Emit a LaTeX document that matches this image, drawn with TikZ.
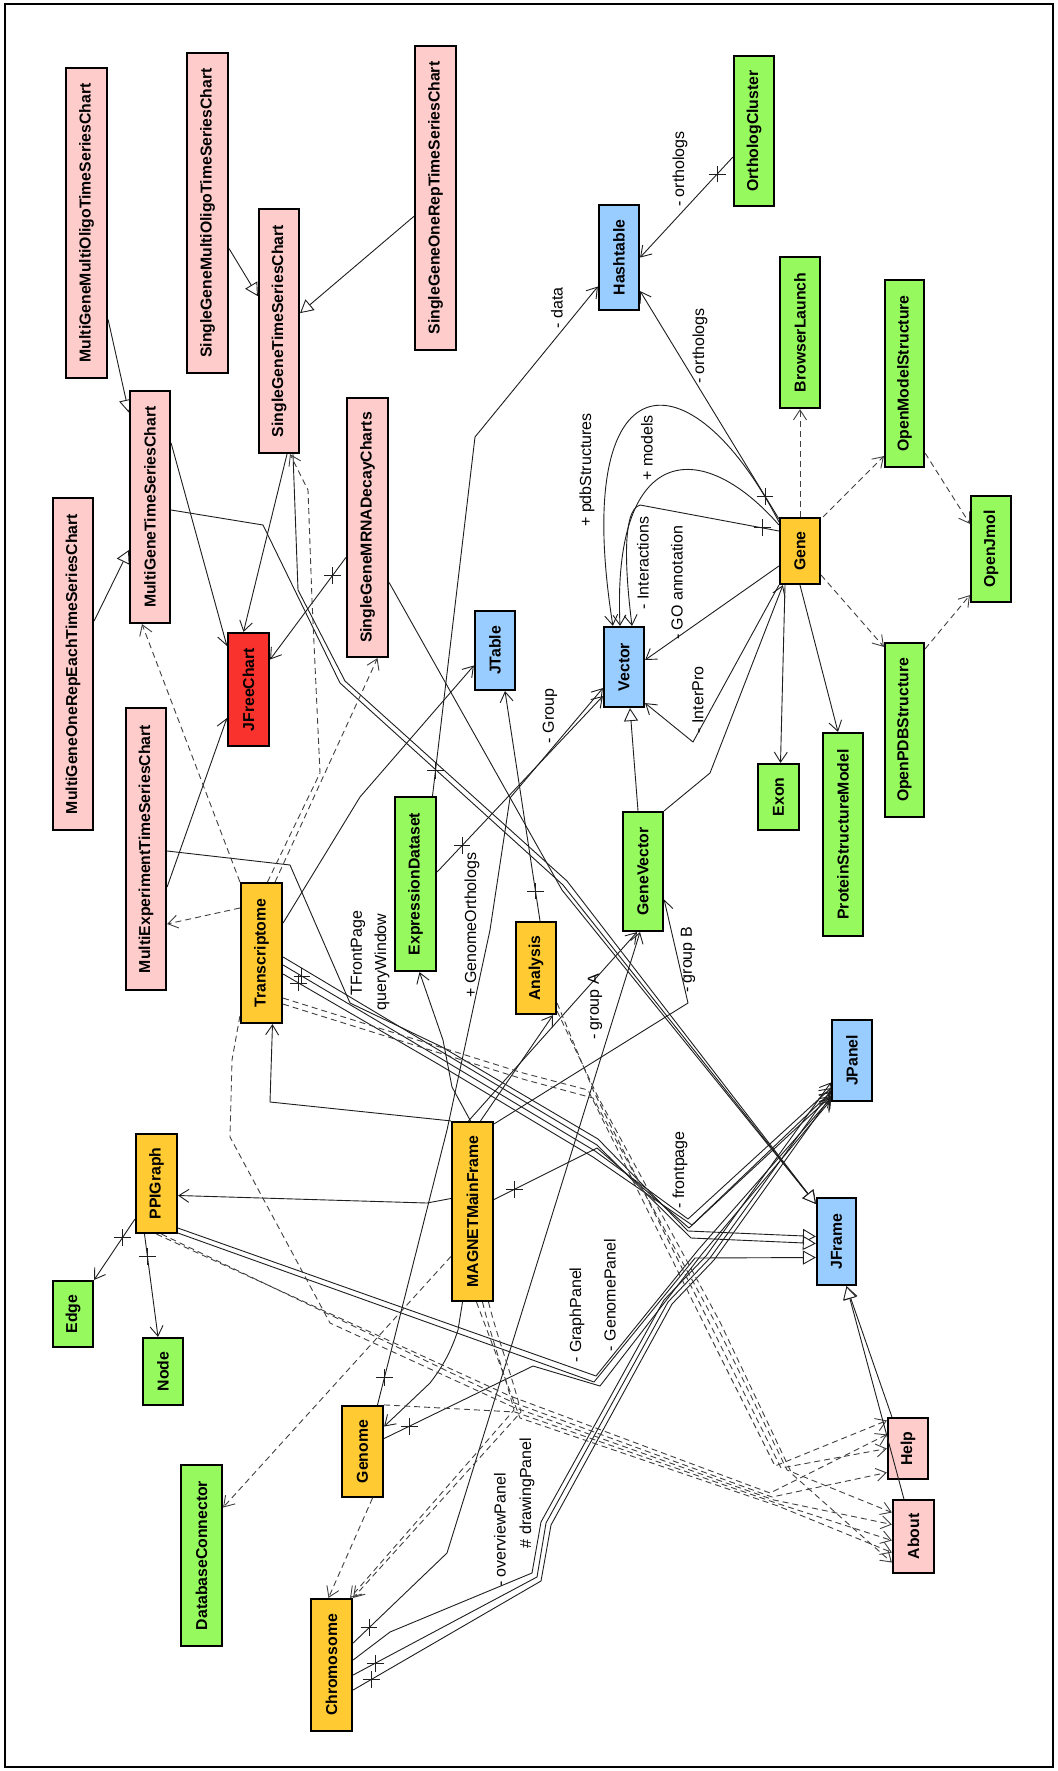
\documentclass[tikz,border=0pt]{standalone}
\usepackage{fontspec}
\setmainfont{Liberation Sans}
\usetikzlibrary{arrows.meta,calc,shapes.misc,backgrounds}
\definecolor{cpink}{RGB}{255,204,204}
\definecolor{cgreen}{RGB}{150,250,95}
\definecolor{corange}{RGB}{255,202,50}
\definecolor{cblue}{RGB}{153,204,255}
\definecolor{cred}{RGB}{250,50,45}
\definecolor{cline}{RGB}{30,30,30}
\tikzset{
  box/.style={draw=black, line width=2.2pt, inner sep=0pt, text=black,
    font=\fontsize{15.8}{18}\selectfont\bfseries},
  pinkbox/.style={box, fill=cpink},
  greenbox/.style={box, fill=cgreen},
  orangebox/.style={box, fill=corange},
  bluebox/.style={box, fill=cblue},
  redbox/.style={box, fill=cred},
  lbl/.style={font=\fontsize{16}{18}\selectfont, inner sep=0pt, rotate=90, text=black},
  assoc/.style={draw=cline, line width=0.9pt, line join=round,
    -{Straight Barb[length=10pt,width=13pt]}},
  gen/.style={draw=cline, line width=0.9pt, line join=round,
    -{Triangle[open,length=13pt,width=14pt,fill=white]}},
  dep/.style={assoc, draw=cline!85, dash pattern=on 6pt off 4pt},
  xm/.style={draw=cline, cross out, rotate=45, minimum size=11pt, inner sep=0pt, line width=0.9pt},
}
\newcommand{\umlclass}[6]{\node[#1, minimum width=#2pt, minimum height=#3pt] (#4) at (#5) {\rotatebox{90}{#6}};}
\begin{document}
\begin{tikzpicture}[x=1pt,y=-1pt]
\useasboundingbox (0,0) rectangle (1057,1771);

% ---------- classes ----------
\umlclass{pinkbox}{41}{310}{mgmo}{86.5,223}{MultiGeneMultiOligoTimeSeriesChart}
\umlclass{pinkbox}{41}{320}{sgmo}{207.5,213}{SingleGeneMultiOligoTimeSeriesChart}
\umlclass{pinkbox}{40}{244}{sgts}{279,331}{SingleGeneTimeSeriesChart}
\umlclass{pinkbox}{41}{304}{sgor}{435.5,198}{SingleGeneOneRepTimeSeriesChart}
\umlclass{pinkbox}{40}{232}{mgts}{150,507}{MultiGeneTimeSeriesChart}
\umlclass{pinkbox}{41}{259}{sgmd}{367.5,527.5}{SingleGeneMRNADecayCharts}
\umlclass{pinkbox}{40}{332}{mgor}{73,664}{MultiGeneOneRepEachTimeSeriesChart}
\umlclass{pinkbox}{40}{282}{met}{146,849}{MultiExperimentTimeSeriesChart}
\umlclass{redbox}{41}{113}{jfc}{248.5,689.5}{JFreeChart}
\umlclass{bluebox}{40}{79}{jtable}{495,650.5}{JTable}
\umlclass{greenbox}{41}{174}{expds}{415.5,884}{ExpressionDataset}
\umlclass{orangebox}{41}{140}{transcriptome}{261.5,953}{Transcriptome}
\umlclass{bluebox}{40}{105}{hashtable}{619,257.5}{Hashtable}
\umlclass{greenbox}{40}{150}{ortholog}{754,131}{OrthologCluster}
\umlclass{greenbox}{40}{151}{browser}{800,332.5}{BrowserLaunch}
\umlclass{greenbox}{39}{187}{oms}{904.5,373.5}{OpenModelStructure}
\umlclass{bluebox}{40}{80}{vector}{624,667}{Vector}
\umlclass{orangebox}{40}{66}{gene}{800,551}{Gene}
\umlclass{greenbox}{40}{106}{jmol}{991,549}{OpenJmol}
\umlclass{greenbox}{39}{174}{opdb}{904.5,730}{OpenPDBStructure}
\umlclass{greenbox}{41}{66}{exon}{778.5,797}{Exon}
\umlclass{greenbox}{40}{203}{psm}{843,834.5}{ProteinStructureModel}
\umlclass{greenbox}{40}{119}{genevector}{643,871.5}{GeneVector}
\umlclass{orangebox}{40}{92}{analysis}{536,968}{Analysis}
\umlclass{bluebox}{40}{81}{jpanel}{852,1060.5}{JPanel}
\umlclass{bluebox}{39}{87}{jframe}{836.5,1241.5}{JFrame}
\umlclass{orangebox}{41}{99}{ppigraph}{156.5,1183.5}{PPIGraph}
\umlclass{orangebox}{41}{179}{magnet}{472.5,1211.5}{MAGNETMainFrame}
\umlclass{greenbox}{40}{66}{edgecls}{73,1314}{Edge}
\umlclass{greenbox}{40}{67}{nodecls}{163,1371.5}{Node}
\umlclass{greenbox}{41}{181}{dbc}{201.5,1555.5}{DatabaseConnector}
\umlclass{orangebox}{41}{91}{genome}{362.5,1451.5}{Genome}
\umlclass{orangebox}{41}{132}{chromosome}{331.5,1665}{Chromosome}
\umlclass{pinkbox}{40}{61}{help}{908,1448.5}{Help}
\umlclass{pinkbox}{41}{73}{about}{913.5,1536.5}{About}

% ---------- role names ----------
\node[lbl] (r1) at (680,169) {- orthologs};
\node[lbl] (r2) at (700,346) {- orthologs};
\node[lbl] (r3) at (557,308) {- data};
\node[lbl] (r4) at (587,470) {+ pdbStructures};
\node[lbl] (r5) at (647,448) {+ models};
\node[lbl] (r6) at (643,563) {- Interactions};
\node[lbl] (r7) at (677,583) {- GO annotation};
\node[lbl] (r8) at (698,700) {- InterPro};
\node[lbl] (r9) at (550,716) {- Group};
\node[lbl] (r10) at (472,925) {+ GenomeOrthologs};
\node[lbl] (r11) at (358,953) {TFrontPage};
\node[lbl] (r12) at (382,962) {queryWindow};
\node[lbl] (r13) at (595,1007) {- group A};
\node[lbl] (r14) at (688,960) {- group B};
\node[lbl] (r15) at (680,1170) {- frontpage};
\node[lbl] (r16) at (577,1315) {- GraphPanel};
\node[lbl] (r17) at (610,1295) {- GenomePanel};
\node[lbl] (r18) at (500,1530) {- overviewPanel};
\node[lbl] (r19) at (527,1493) {\# drawingPanel};

\begin{scope}[on background layer]
\fill[white] (0,0) rectangle (1057,1771);

% ---------- generalizations ----------
\draw[gen] (mgmo) -- (mgts);
\draw[gen] (sgmo) -- (sgts);
\draw[gen] (sgor) -- (sgts);
\draw[gen] (mgor) -- (mgts);
\draw[gen] ($(genevector.north)+(-5,0)$) -- ($(vector.south)+(6,0)$);
\draw[gen] ($(mgts.east)+(0,3)$) -- (263,525) -- (340,683) -- (563,885) -- ($(jframe.north west)+(0,7)$);
\draw[gen] ($(sgts.south)+(14,0)$) -- (298,590) -- (345,681) -- (567,881) -- ($(jframe.north west)+(0,7)$);
\draw[gen] ($(sgmd.east)+(0,55)$) -- (562,890) -- ($(jframe.north west)+(0,7)$);
\draw[gen] ($(met.east)+(0,2)$) -- (290,865) -- (350,1003) -- (442,1047) -- (598,1139) -- (688,1231) -- ($(jframe.west)+(0,-5)$);
\draw[gen] ($(transcriptome.east)+(0,4)$) -- (442,1052) -- (597,1145) -- (691,1238) -- ($(jframe.west)+(0,2)$);
\draw[gen] ($(ppigraph.south east)+(0,-1)$) -- (594,1382) -- (695,1258) -- ($(jframe.west)+(0,16)$);
\draw[gen] ($(help.north west)+(5,0)$) -- ($(jframe.south)+(10,0)$);

% ---------- associations ----------
\draw[assoc] ($(ortholog.west)+(0,26)$) -- node[xm,pos=.17] (k1) {} (hashtable.east);
\draw[assoc] ($(gene.north west)+(0,2)$) -- node[xm,pos=.1] (k2) {} ($(hashtable.south east)+(0,-20)$);
\draw[assoc] ($(expds.north)+(17,0)$) -- node[xm,pos=.07] (k3) {} (475,437) -- ($(hashtable.west)+(0,29)$);
\draw[assoc] ($(gene.north west)+(0,5)$) .. controls (690,350) and (570,355) .. ($(vector.north west)+(10,0)$);
\draw[assoc] ($(gene.north west)+(0,8)$) .. controls (700,435) and (612,445) .. ($(vector.north)+(-4,0)$);
\draw[assoc] ($(gene.west)+(0,-20)$) -- node[xm,pos=.12] (k4) {} (640,505) .. controls (622,510) and (625,570) .. ($(vector.north)+(8,0)$);
\draw[assoc] ($(gene.west)+(0,15)$) -- ($(vector.east)+(0,-7)$);
\draw[assoc] (gene.south west) -- (693,742) -- ($(vector.south east)+(0,-5)$);
\draw[assoc] (genevector.north east) -- (710,773) -- ($(gene.south west)+(4,0)$);
\draw[assoc] ($(gene.south)+(-15,0)$) -- ($(exon.north)+(2,0)$);
\draw[assoc] (gene.south) -- ($(psm.north)+(-5,0)$);
\draw[assoc] ($(expds.east)+(0,-12)$) -- node[xm,pos=.15] (k5) {} ($(vector.south west)+(0,-12)$);
\draw[assoc] ($(genome.north)+(15,0)$) -- node[xm,pos=.1] (k6) {} (447,1130) -- (490,930) -- (510,798) -- ($(vector.south west)+(0,-20)$);
\draw[assoc] ($(analysis.north)+(4,0)$) -- node[xm,pos=.13] (k7) {} ($(jtable.south)+(10,0)$);
\draw[assoc] ($(transcriptome.east)+(0,-30)$) -- (360,797) -- ($(jtable.west)+(0,15)$);
\draw[assoc] ($(mgts.east)+(0,-64)$) -- ($(jfc.north west)+(0,14)$);
\draw[assoc] ($(sgts.south)+(8,0)$) -- ($(jfc.north)+(-5,0)$);
\draw[assoc] ($(sgmd.west)+(0,30)$) -- node[xm,pos=.18] (k8) {} ($(jfc.east)+(0,-30)$);
\draw[assoc] ($(met.east)+(0,38)$) -- ($(jfc.south west)+(0,-29)$);
\draw[assoc] ($(ppigraph.south west)+(0,-15)$) -- node[xm,pos=.3] (k9) {} (edgecls.north east);
\draw[assoc] ($(ppigraph.south)+(-12,0)$) -- node[xm,pos=.22] (k10) {} ($(nodecls.north)+(-5,0)$);
\draw[assoc] ($(magnet.west)+(0,-13)$) -- (427,1203) -- ($(ppigraph.east)+(0,12)$);
\draw[assoc] (magnet.north west) -- (270,1102) -- ($(transcriptome.south)+(11,0)$);
\draw[assoc] ($(magnet.north)+(-2,0)$) -- (452,1087) -- (443,1040) -- ($(expds.south)+(4,0)$);
\draw[assoc] ($(magnet.north)+(8,0)$) -- ($(analysis.south)+(17,0)$);
\draw[assoc] ($(magnet.north)+(-4,0)$) -- ($(genevector.south)+(-6,0)$);
\draw[assoc] ($(magnet.north east)+(0,3)$) -- (688,1003) -- ($(genevector.east)+(0,28)$);
\draw[assoc] ($(magnet.south)+(-10,0)$) -- (458,1330) .. controls (450,1355) and (440,1370) .. (430,1383) -- ($(genome.east)+(0,-25)$);

% panels gathered into JPanel
\draw[assoc] ($(transcriptome.east)+(0,12)$) -- node[xm,pos=.12] (k11) {} (440,1058) -- (595,1151) -- (688,1219) -- ($(jpanel.south west)+(0,-14)$);
\draw[assoc] ($(transcriptome.east)+(0,21)$) -- node[xm,pos=.1] (k12) {} (438,1064) -- (593,1157) -- (692,1225) -- ($(jpanel.south west)+(0,-10)$);
\draw[assoc] ($(magnet.east)+(0,-12)$) -- node[xm,pos=.2] (k13) {} (597,1148) -- (689,1228) -- ($(jpanel.south west)+(0,-6)$);
\draw[assoc] ($(ppigraph.south east)+(0,-6)$) -- (596,1376) -- (698,1250) -- ($(jpanel.south west)+(0,-4)$);
\draw[assoc] ($(genome.east)+(0,-13)$) -- node[xm,pos=.17] (k14) {} (533,1366) -- (600,1386) -- (702,1254) -- ($(jpanel.south west)+(0,-2)$);
\draw[assoc] ($(chromosome.east)+(0,-5)$) -- (390,1632) -- (532,1573) -- (541,1522) -- (664,1300) -- (706,1256) -- ($(jpanel.west)+(0,22)$);
\draw[assoc] ($(chromosome.east)+(0,10)$) -- node[xm,pos=.12] (k15) {} (537,1577) -- (546,1523) -- (668,1302) -- (710,1258) -- ($(jpanel.west)+(0,30)$);
\draw[assoc] ($(chromosome.east)+(0,25)$) -- node[xm,pos=.1] (k16) {} (541,1581) -- (551,1525) -- (672,1304) -- (714,1260) -- ($(jpanel.west)+(0,36)$);
\draw[assoc] ($(chromosome.east)+(0,-22)$) -- node[xm,pos=.17] (k17) {} (447,1553) -- ($(genevector.south)+(-3,0)$);

% ---------- dependencies ----------
\draw[dep] (gene.north) -- (browser.south);
\draw[dep] ($(gene.north east)+(2,0)$) -- ($(oms.south west)+(0,-12)$);
\draw[dep] ($(gene.south east)+(0,-10)$) -- ($(opdb.north west)+(0,5)$);
\draw[dep] ($(oms.south east)+(0,-15)$) -- ($(jmol.north west)+(0,29)$);
\draw[dep] ($(opdb.north east)+(0,7)$) -- ($(jmol.south west)+(0,-8)$);
\draw[dep] (transcriptome.north west) -- ($(mgts.south)+(-8,0)$);
\draw[dep] ($(transcriptome.north)+(6,0)$) -- (320,773) -- (312,600) -- (308,490) -- ($(sgts.south)+(11,0)$);
\draw[dep] ($(transcriptome.north east)+(-8,0)$) -- ($(sgmd.south)+(10,0)$);
\draw[dep] ($(transcriptome.west)+(0,-45)$) -- ($(met.east)+(0,75)$);
\draw[dep] ($(magnet.west)+(0,45)$) -- ($(dbc.east)+(0,-48)$);
\draw[dep] ($(genome.south)+(10,0)$) -- ($(chromosome.north)+(-3,0)$);
\draw[dep] ($(magnet.south)+(10,0)$) .. controls (492,1340) and (505,1375) .. (514,1410) -- ($(chromosome.north east)+(-3,0)$);
\draw[dep] ($(magnet.south)+(16,0)$) .. controls (498,1340) and (512,1375) .. (521,1412) -- (chromosome.north east);

% dependencies fanning into Help and About
\draw[dep] ($(transcriptome.south east)+(0,-26)$) -- (523,1073) -- (588,1090) -- (703,1322) -- (775,1466) -- ($(help.west)+(0,-28)$);
\draw[dep] ($(analysis.south east)+(0,-12)$) -- (594,1092) -- (709,1322) -- (781,1468) -- (help.west);
\draw[dep] ($(transcriptome.south east)+(0,-20)$) -- (526,1080) -- (593,1098) -- (715,1322) -- (787,1470) -- ($(about.west)+(0,-24)$);
\draw[dep] ($(ppigraph.south)+(0,0)$) -- (510,1396) -- (770,1493) -- ($(help.west)+(0,-14)$);
\draw[dep] ($(ppigraph.south)+(5,0)$) -- (512,1402) -- (772,1497) -- ($(help.west)+(0,24)$);
\draw[dep] ($(transcriptome.south west)+(0,-8)$) -- (232,1060) -- (230,1137) -- (330,1323) -- (513,1407) -- (774,1500) -- ($(about.west)+(0,-12)$);
\draw[dep] (genome.north east) -- (515,1412) -- (776,1503) -- ($(about.west)+(0,4)$);
\draw[dep] ($(magnet.south)+(4,0)$) -- (520,1418) -- (778,1506) -- ($(about.west)+(0,16)$);
\draw[dep] ($(analysis.south east)+(0,-4)$) -- (598,1097) -- (720,1322) -- (792,1474) -- ($(about.west)+(0,26)$);
\end{scope}

% About's generalization crosses the Help box
\draw[gen] ($(about.north west)+(12,0)$) -- ($(jframe.south)+(10,0)$);

% outer frame
\draw[line width=2pt] (5,4) rectangle (1053,1767);
\end{tikzpicture}
\end{document}
